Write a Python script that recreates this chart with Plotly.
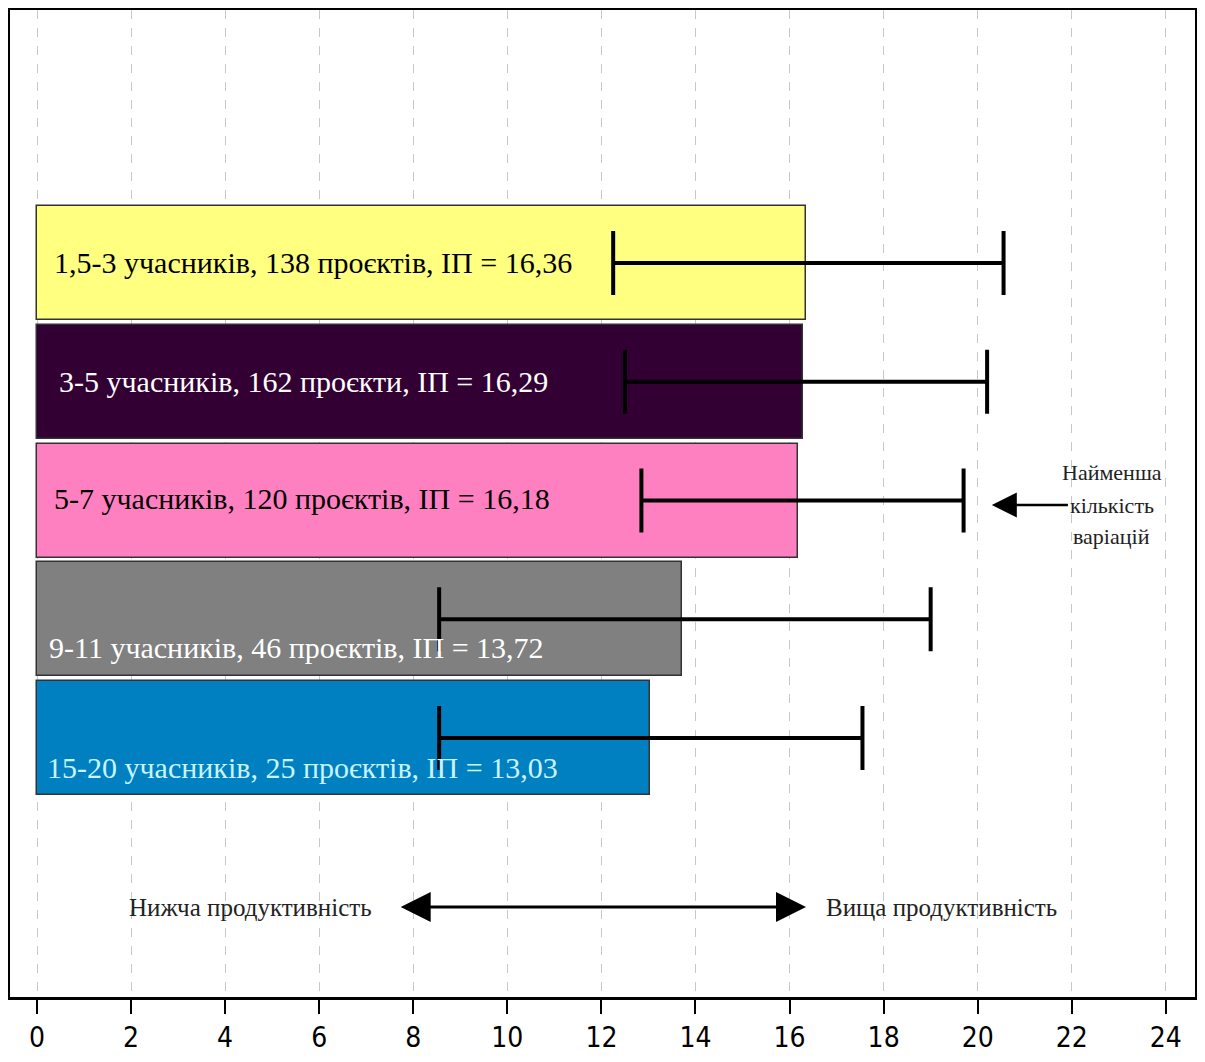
import plotly.graph_objects as go

labels = [
    "1,5-3 учасників, 138 проєктів, ІП = 16,36",
    "3-5 учасників, 162 проєкти, ІП = 16,29",
    "5-7 учасників, 120 проєктів, ІП = 16,18",
    "9-11 учасників, 46 проєктів, ІП = 13,72",
    "15-20 учасників, 25 проєктів, ІП = 13,03",
]
values = [16.36, 16.29, 16.18, 13.72, 13.03]
err_low = [12.25, 12.5, 12.85, 8.55, 8.55]
err_high = [20.55, 20.2, 19.7, 19.0, 17.55]
bar_colors = ["#ffff80", "#330033", "#ff80c0", "#808080", "#0080c0"]
text_colors = ["#000000", "#ffffff", "#000000", "#ffffff", "#c8f4ff"]
ypos = [5, 4, 3, 2, 1]
text_y = [5.0, 4.0, 3.02, 1.76, 0.75]
text_x = [0.32, 0.42, 0.32, 0.21, 0.17]
xticks = list(range(0, 25, 2))
note_lines = ["Найменша", "кількість", "варіацій"]
note_y = [3.232, 2.962, 2.693]

fig = go.Figure()
fig.add_trace(go.Bar(
    x=values, y=ypos, orientation="h", width=0.96,
    marker=dict(color=bar_colors, line=dict(color="#333333", width=1.5)),
    hoverinfo="x", showlegend=False,
))
mid = [(a + b) / 2 for a, b in zip(err_low, err_high)]
half = [(b - a) / 2 for a, b in zip(err_low, err_high)]
fig.add_trace(go.Scatter(
    x=mid, y=ypos, mode="markers",
    marker=dict(size=1, color="rgba(0,0,0,0)"),
    error_x=dict(type="data", array=half, symmetric=True, color="black",
                 thickness=4, width=32),
    showlegend=False, hoverinfo="skip",
))

serif = "Liberation Serif, Times New Roman, serif"
for lab, tx, ty, tc in zip(labels, text_x, text_y, text_colors):
    fig.add_annotation(x=tx, y=ty, text=lab, showarrow=False, xanchor="left",
                       yanchor="middle", font=dict(family=serif, size=30, color=tc))

for line, ny in zip(note_lines, note_y):
    fig.add_annotation(x=22.85, y=ny, text=line, showarrow=False,
                       font=dict(family=serif, size=22, color="#222"))
fig.add_annotation(x=20.3, y=2.962, ax=21.95, ay=2.962, axref="x", ayref="y",
                   xref="x", yref="y", text="", showarrow=True,
                   arrowhead=2, arrowsize=2, arrowwidth=2.5, arrowcolor="black")
fig.add_annotation(x=16.35, y=-0.423, ax=7.7, ay=-0.423, axref="x", ayref="y",
                   xref="x", yref="y", text="", showarrow=True,
                   arrowhead=2, startarrowhead=2, arrowside="end+start",
                   arrowsize=2, startarrowsize=2, arrowwidth=3, arrowcolor="black")
fig.add_annotation(x=4.53, y=-0.423, text="Нижча продуктивність", showarrow=False,
                   font=dict(family=serif, size=25, color="#222"))
fig.add_annotation(x=19.22, y=-0.423, text="Вища продуктивність", showarrow=False,
                   font=dict(family=serif, size=25, color="#222"))

fig.update_layout(
    width=1189, height=1046,
    margin=dict(l=2, r=2, t=2, b=57),
    paper_bgcolor="white", plot_bgcolor="white",
    bargap=0,
)
fig.update_xaxes(
    range=[-0.574, 24.62], tickvals=xticks, ticktext=[str(t) for t in xticks],
    showgrid=True, gridcolor="#c8c8c8", griddash="dash", gridwidth=1,
    showline=True, linecolor="black", linewidth=2.5, mirror=True,
    ticks="outside", ticklen=14, tickwidth=1.5, tickcolor="black",
    tickfont=dict(family="DejaVu Sans Condensed, Liberation Sans Narrow, Arial Narrow, sans-serif",
                  size=28, color="black"),
    zeroline=False, automargin=False,
)
fig.update_yaxes(
    range=[-1.18, 7.13], showticklabels=False, showgrid=False, zeroline=False,
    showline=True, linecolor="black", linewidth=2, mirror=True, ticks="",
    automargin=False,
)

fig.write_html("out.html")
